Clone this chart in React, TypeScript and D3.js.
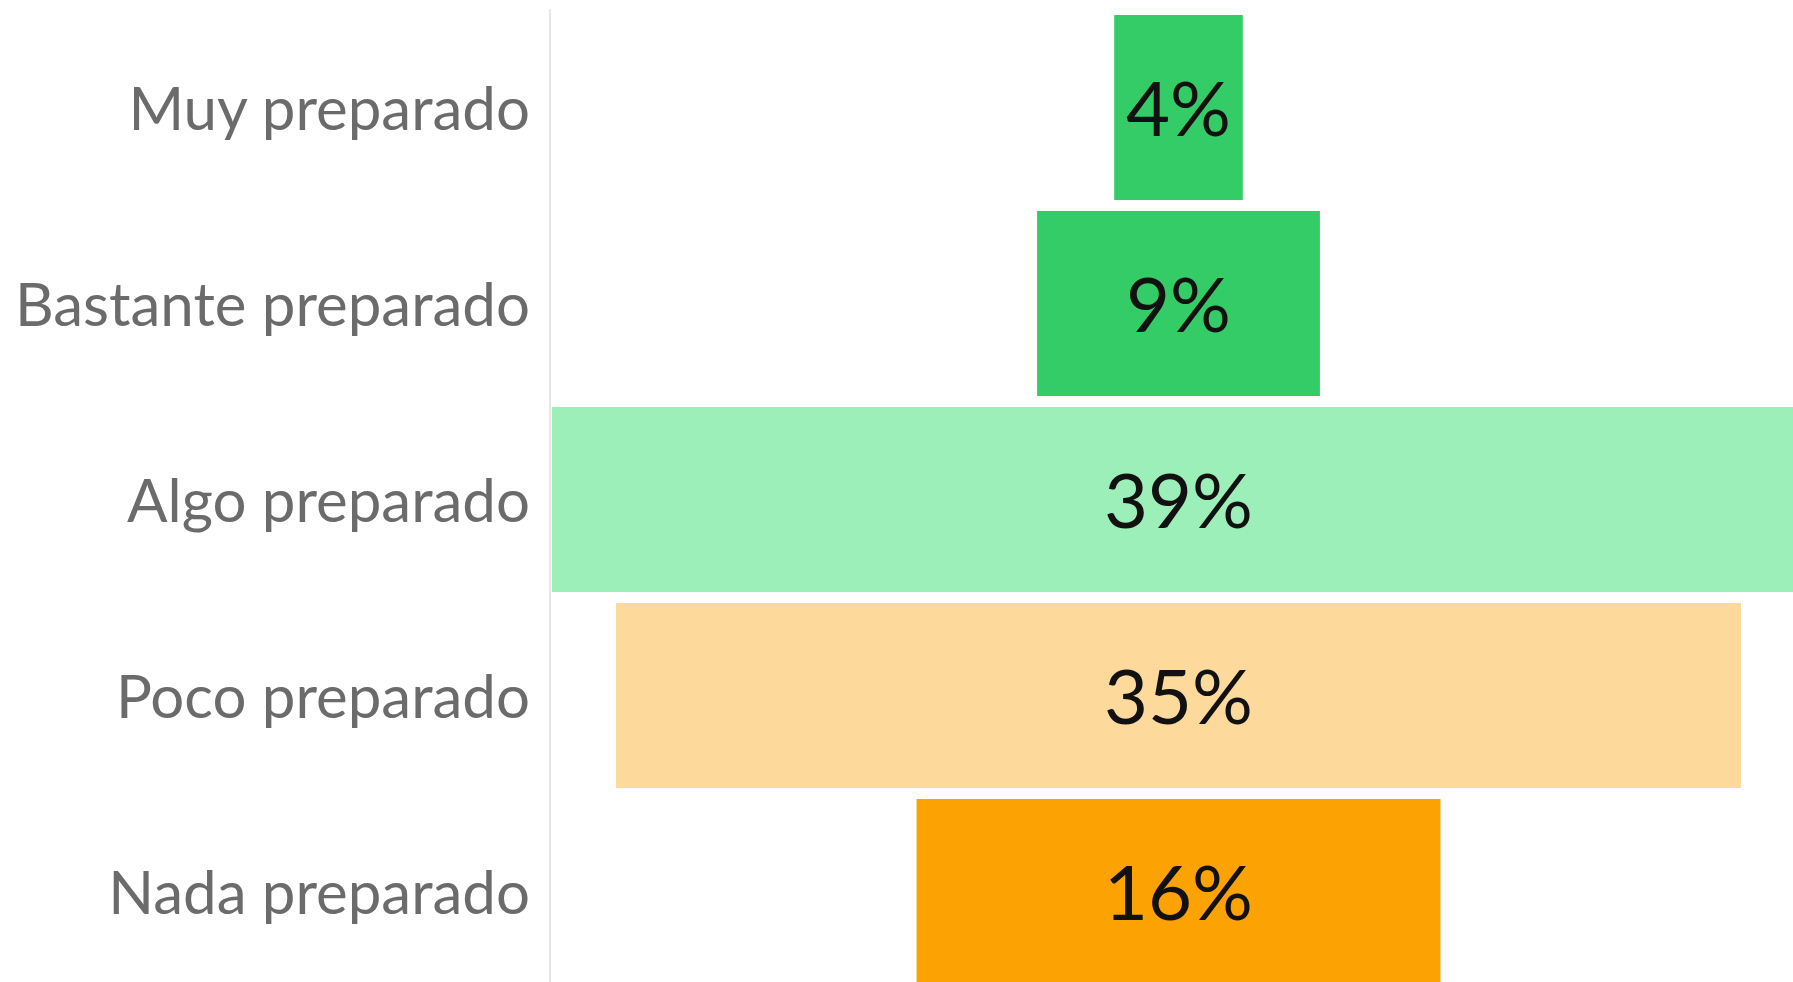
import React, { useEffect, useRef } from "react";
import * as d3 from "d3";

// categories top to bottom, share of answers in % (bar lengths)
const categories = ["Muy preparado", "Bastante preparado", "Algo preparado", "Poco preparado", "Nada preparado"];
const values = [4, 8.8, 39, 35, 16.3];
const valueLabels = ["4%", "9%", "39%", "35%", "16%"];
const barColors = ["#33cc66", "#33cc66", "#9defba", "#fdd99b", "#fca203"];

const W = 1793;
const H = 982;

export default function App() {
  const ref = useRef<SVGSVGElement | null>(null);

  useEffect(() => {
    const svg = d3.select(ref.current);
    svg.selectAll("*").remove();

    const axisX = 550;
    const centerX = 1178.5;

    const xScale = d3.scaleLinear().domain([0, 100]).range([0, 3214]);
    const yScale = d3.scaleBand<string>()
      .domain(categories)
      .range([9.5, 989.5])
      .paddingInner(0.056)
      .paddingOuter(0.028);

    const rows = categories.map((c, i) => ({
      cat: c,
      value: values[i],
      label: valueLabels[i],
      color: barColors[i],
    }));

    // vertical axis line
    svg.append("line")
      .attr("x1", axisX)
      .attr("x2", axisX)
      .attr("y1", 9)
      .attr("y2", H)
      .attr("stroke", "#e6e6e6")
      .attr("stroke-width", 2);

    const g = svg.append("g");

    g.selectAll(".bar")
      .data(rows)
      .join("rect")
      .attr("class", "bar")
      .attr("x", d => centerX - xScale(d.value) / 2)
      .attr("y", d => yScale(d.cat)!)
      .attr("width", d => xScale(d.value))
      .attr("height", yScale.bandwidth())
      .attr("fill", d => d.color);

    g.selectAll(".val")
      .data(rows)
      .join("text")
      .attr("class", "val")
      .attr("x", centerX)
      .attr("y", d => yScale(d.cat)! + yScale.bandwidth() / 2)
      .attr("dy", "0.37em")
      .attr("text-anchor", "middle")
      .attr("font-family", "Lato, sans-serif")
      .attr("font-size", 76)
      .attr("fill", "#111")
      .text(d => d.label);

    g.selectAll(".cat")
      .data(rows)
      .join("text")
      .attr("class", "cat")
      .attr("x", 530)
      .attr("y", d => yScale(d.cat)! + yScale.bandwidth() / 2)
      .attr("dy", "0.38em")
      .attr("text-anchor", "end")
      .attr("font-family", "Lato, sans-serif")
      .attr("font-size", 60)
      .attr("fill", "#6b6b6b")
      .text(d => d.cat);
  }, []);

  return (
    <svg
      ref={ref}
      width={W}
      height={H}
      style={{ position: "absolute", left: 0, top: 0, background: "#fff" }}
    />
  );
}
